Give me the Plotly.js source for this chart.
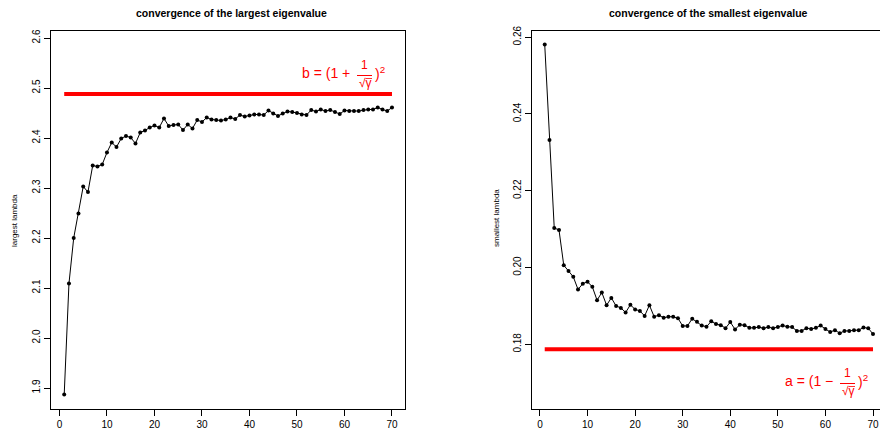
<!DOCTYPE html>
<html>
<head>
<meta charset="utf-8">
<script src="https://cdn.plot.ly/plotly-3.0.1.min.js"></script>
<style>html,body{margin:0;padding:0;background:#fff;}#chart{width:880px;height:433px;}</style>
</head>
<body>
<div id="chart"></div>
<script>
// ---- data ----
const iterations = Array.from({length: 70}, (_, k) => k + 1);
const largestLambda = [
  1.887, 2.109, 2.200, 2.249, 2.303, 2.292, 2.345, 2.343, 2.347, 2.371,
  2.391, 2.382, 2.399, 2.404, 2.401, 2.389, 2.411, 2.415, 2.421, 2.425,
  2.421, 2.439, 2.424, 2.426, 2.427, 2.416, 2.427, 2.419, 2.436, 2.432,
  2.441, 2.437, 2.436, 2.435, 2.437, 2.441, 2.438, 2.446, 2.443, 2.445,
  2.447, 2.447, 2.446, 2.455, 2.449, 2.444, 2.449, 2.453, 2.452, 2.450,
  2.447, 2.446, 2.456, 2.453, 2.457, 2.454, 2.456, 2.452, 2.448, 2.455,
  2.454, 2.454, 2.454, 2.456, 2.457, 2.457, 2.461, 2.457, 2.454, 2.461
];
const smallestLambda = [
  0.2581, 0.2332, 0.2103, 0.2098, 0.2006, 0.1991, 0.1976, 0.1943, 0.1958, 0.1963,
  0.1950, 0.1915, 0.1935, 0.1902, 0.1921, 0.1900, 0.1895, 0.1883, 0.1903, 0.1891,
  0.1887, 0.1874, 0.1902, 0.1872, 0.1876, 0.1869, 0.1872, 0.1872, 0.1868, 0.1848,
  0.1848, 0.1867, 0.1859, 0.1849, 0.1846, 0.1860, 0.1853, 0.1850, 0.1842, 0.1858,
  0.1839, 0.1851, 0.1850, 0.1843, 0.1843, 0.1845, 0.1842, 0.1845, 0.1842, 0.1845,
  0.1849, 0.1846, 0.1845, 0.1835, 0.1835, 0.1842, 0.1840, 0.1843, 0.1849, 0.1840,
  0.1832, 0.1837, 0.1829, 0.1835, 0.1835, 0.1837, 0.1837, 0.1844, 0.1842, 0.1827
];
const limitX = [1, 70];
const bLimit = [2.488, 2.488];     // (1 + 1/sqrt(gamma))^2
const aLimit = [0.1787, 0.1787];   // (1 - 1/sqrt(gamma))^2
const xTicks = [0, 10, 20, 30, 40, 50, 60, 70];
const yTicksLeft = [1.9, 2.0, 2.1, 2.2, 2.3, 2.4, 2.5, 2.6];
const yTicksRight = [0.18, 0.20, 0.22, 0.24, 0.26];
const titles = ["convergence of the largest eigenvalue", "convergence of the smallest eigenvalue"];
const yLabels = ["largest lambda", "smallest lambda"];

// ---- layout helpers ----
const W = 880, H = 433;
const px = x => x / W;
const py = y => 1 - y / H;
const FONT = "Liberation Sans, Arial, Helvetica, sans-serif";
const RED = "#ff0000";

const markerStyle = {color: "#000", size: 4};
const traces = [
  {x: iterations, y: largestLambda, xaxis: "x", yaxis: "y", mode: "lines+markers",
   line: {color: "#000", width: 1}, marker: markerStyle, hoverinfo: "skip"},
  {x: limitX, y: bLimit, xaxis: "x", yaxis: "y", mode: "lines",
   line: {color: RED, width: 4}, hoverinfo: "skip"},
  {x: iterations, y: smallestLambda, xaxis: "x2", yaxis: "y2", mode: "lines+markers",
   line: {color: "#000", width: 1}, marker: markerStyle, hoverinfo: "skip"},
  {x: limitX, y: aLimit, xaxis: "x2", yaxis: "y2", mode: "lines",
   line: {color: RED, width: 4}, hoverinfo: "skip"}
];

const tickFont = {family: FONT, size: 10, color: "#000"};
const baseX = {
  tickmode: "array", tickvals: xTicks, ticks: "outside", ticklen: 6, tickwidth: 1,
  tickcolor: "#000", tickfont: tickFont, showgrid: false, zeroline: false,
  showline: true, linecolor: "#000", linewidth: 1, mirror: true, fixedrange: true
};
const baseY = {
  tickmode: "array", ticks: "outside", ticklen: 6, tickwidth: 1, tickcolor: "#000",
  tickfont: tickFont, tickangle: -90, showgrid: false, zeroline: false,
  showline: true, linecolor: "#000", linewidth: 1, fixedrange: true
};
const yDomain = [py(408.5), py(31)];

function formula(prefix, xRight, yMid, xFrac) {
  return [
    {text: prefix, xref: "paper", yref: "paper", x: px(xRight), y: py(yMid), xanchor: "right", yanchor: "middle",
     showarrow: false, font: {family: FONT, size: 14, color: RED}},
    {text: "1", xref: "paper", yref: "paper", x: px(xFrac), y: py(yMid - 8), xanchor: "center", yanchor: "middle",
     showarrow: false, font: {family: FONT, size: 12, color: RED}},
    {text: "√γ", xref: "paper", yref: "paper", x: px(xFrac + 1), y: py(yMid + 10), xanchor: "center", yanchor: "middle",
     showarrow: false, font: {family: FONT, size: 12, color: RED}},
    {text: ")<sup>2</sup>", xref: "paper", yref: "paper", x: px(xFrac + 9), y: py(yMid), xanchor: "left", yanchor: "middle",
     showarrow: false, font: {family: FONT, size: 14, color: RED}}
  ];
}
function fracShapes(yMid, xFrac) {
  return [
    {type: "line", xref: "paper", yref: "paper", x0: px(xFrac - 7), x1: px(xFrac + 8), y0: py(yMid + 2.5), y1: py(yMid + 2.5),
     line: {color: RED, width: 1}},
    {type: "line", xref: "paper", yref: "paper", x0: px(xFrac + 1.5), x1: px(xFrac + 8), y0: py(yMid + 5.5), y1: py(yMid + 5.5),
     line: {color: RED, width: 0.8}}
  ];
}

const layout = {
  width: W, height: H,
  margin: {l: 0, r: 0, t: 0, b: 0, pad: 0},
  paper_bgcolor: "#fff", plot_bgcolor: "#fff",
  showlegend: false,
  xaxis: Object.assign({}, baseX, {domain: [px(51.1), px(405.1)], range: [-1.76, 72.76], anchor: "y"}),
  yaxis: Object.assign({}, baseY, {domain: yDomain, range: [1.859, 2.614], tickvals: yTicksLeft,
    tickformat: ".1f", anchor: "x", mirror: true}),
  xaxis2: Object.assign({}, baseX, {domain: [px(531.6), 1], range: [-1.76, 71.47], anchor: "y2"}),
  yaxis2: Object.assign({}, baseY, {domain: yDomain, range: [0.1633, 0.2616], tickvals: yTicksRight,
    tickformat: ".2f", anchor: "x2", mirror: false}),
  annotations: [
    {text: "<b>" + titles[0] + "</b>", xref: "paper", yref: "paper", x: px(232), y: py(13),
     xanchor: "center", yanchor: "middle", showarrow: false, font: {family: FONT, size: 10.5, color: "#000"}},
    {text: "<b>" + titles[1] + "</b>", xref: "paper", yref: "paper", x: px(708), y: py(13),
     xanchor: "center", yanchor: "middle", showarrow: false, font: {family: FONT, size: 10.5, color: "#000"}},
    {text: yLabels[0], xref: "paper", yref: "paper", x: px(14), y: py(220), textangle: -90,
     xanchor: "center", yanchor: "middle", showarrow: false, font: {family: FONT, size: 8, color: "#000"}},
    {text: yLabels[1], xref: "paper", yref: "paper", x: px(496), y: py(218), textangle: -90,
     xanchor: "center", yanchor: "middle", showarrow: false, font: {family: FONT, size: 8, color: "#000"}}
  ].concat(formula("b = (1 + ", 356, 73, 364), formula("a = (1 − ", 839, 381, 847)),
  shapes: fracShapes(73, 364).concat(fracShapes(381, 847))
};

Plotly.newPlot("chart", traces, layout, {displayModeBar: false, staticPlot: true});
</script>
</body>
</html>
